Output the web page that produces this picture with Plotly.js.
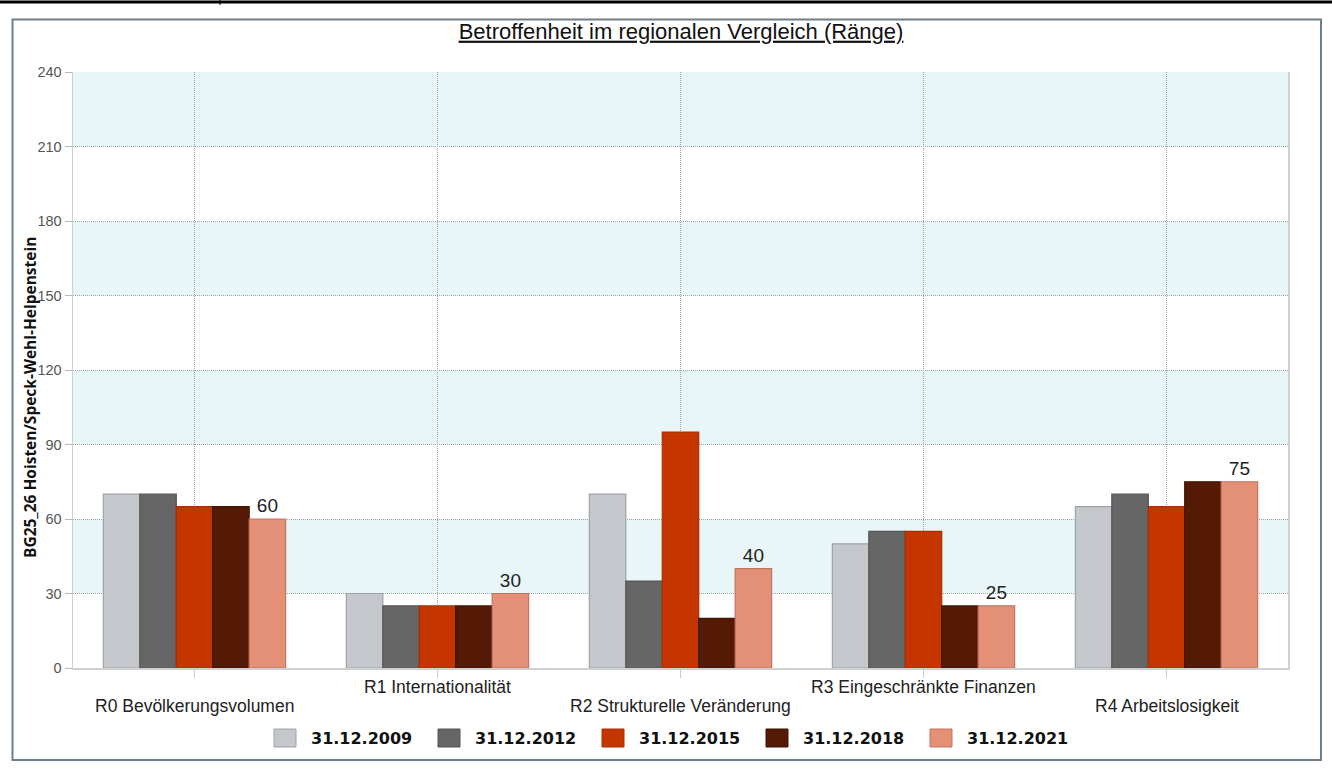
<!DOCTYPE html>
<html>
<head>
<meta charset="utf-8">
<script src="https://cdn.plot.ly/plotly-3.0.1.min.js"></script>
<style>
html,body{margin:0;padding:0;background:#fff;}
#chart{width:1332px;height:771px;}
</style>
</head>
<body>
<div id="chart"></div>
<script>
// ---- data ----
const categories = ["R0 Bevölkerungsvolumen", "R1 Internationalität", "R2 Strukturelle Veränderung", "R3 Eingeschränkte Finanzen", "R4 Arbeitslosigkeit"];
const seriesNames = ["31.12.2009", "31.12.2012", "31.12.2015", "31.12.2018", "31.12.2021"];
const v2009 = [70, 30, 70, 50, 65];
const v2012 = [70, 25, 35, 55, 70];
const v2015 = [65, 25, 95, 55, 65];
const v2018 = [65, 25, 20, 25, 75];
const v2021 = [60, 30, 40, 25, 75];
const yTicks = [0, 30, 60, 90, 120, 150, 180, 210, 240];
const chartTitle = "Betroffenheit im regionalen Vergleich (Ränge)";
const yTitle = "BG25_26 Hoisten/Speck-Wehl-Helpenstein";

// ---- style ----
const fills = ["#c4c8cc", "#666666", "#c43500", "#551a06", "#e39076"];
const borders = ["#9ea3a8", "#555555", "#a83000", "#3e1404", "#c27460"];
const allValues = [v2009, v2012, v2015, v2018, v2021];

const W = 1332, H = 771;
const L = 73, R = 1288, T = 72, B = 668;
const pw = R - L, ph = B - T;
const px = x => (x - L) / pw;
const py = y => (B - y) / ph;
const ARIAL = "Liberation Sans, Arial, sans-serif";

const traces = allValues.map((vals, i) => {
  const isLast = i === allValues.length - 1;
  return {
    type: "bar",
    name: seriesNames[i],
    x: categories,
    y: vals,
    marker: {color: fills[i], line: {color: borders[i], width: 1.2}},
    text: isLast ? vals.map(String) : undefined,
    textposition: isLast ? "outside" : "none",
    textfont: {family: ARIAL, size: 19, color: "#222"},
    cliponaxis: false,
    showlegend: false,
    hoverinfo: "x+y+name"
  };
});

const shapes = [];
// alternating bands derived from ticks
for (let k = 1; k + 1 < yTicks.length; k += 2) {
  shapes.push({type: "rect", xref: "paper", yref: "y", x0: 0, x1: 1, y0: yTicks[k], y1: yTicks[k + 1],
    fillcolor: "#e8f6f8", line: {width: 0}, layer: "below"});
}
// outer frame
shapes.push({type: "rect", xref: "paper", yref: "paper", x0: px(12.5), x1: px(1321), y0: py(760), y1: py(19.5),
  line: {color: "#6f7d88", width: 2}, fillcolor: "rgba(0,0,0,0)"});
// top black rule
shapes.push({type: "line", xref: "paper", yref: "paper", x0: px(0), x1: px(1332), y0: py(2), y1: py(2),
  line: {color: "#000", width: 3}});
shapes.push({type: "line", xref: "paper", yref: "paper", x0: px(220), x1: px(220), y0: py(0), y1: py(5),
  line: {color: "#000", width: 1}});

const annotations = [];
// staggered category labels
categories.forEach((c, i) => {
  annotations.push({xref: "x", yref: "paper", x: c, y: 0, yanchor: "top", xanchor: "center",
    yshift: (i % 2 === 0) ? -26 : -7, text: c, showarrow: false,
    font: {family: ARIAL, size: 17.5, color: "#222"}});
});
// y axis title placed like the reference
annotations.push({xref: "paper", yref: "paper", x: px(30), y: py(398), xanchor: "center", yanchor: "middle",
  textangle: -90, text: yTitle, showarrow: false,
  font: {family: "Open Sans, sans-serif", size: 15.5, color: "#111", weight: "bold"}});
// legend (manual, large swatches)
const legY = 738, legX0 = 274, legStep = 164;
seriesNames.forEach((n, i) => {
  const x = legX0 + i * legStep;
  shapes.push({type: "rect", xref: "paper", yref: "paper", x0: px(x), x1: px(x + 22), y0: py(747), y1: py(729),
    fillcolor: fills[i], line: {color: borders[i], width: 1}});
  annotations.push({xref: "paper", yref: "paper", x: px(x + 35), y: py(legY), xanchor: "left", yanchor: "middle",
    text: "<b>" + n + "</b>", showarrow: false,
    font: {family: "DejaVu Sans, Verdana, sans-serif", size: 16, color: "#111"}});
});

const layout = {
  width: W, height: H,
  margin: {l: L, r: W - R, t: T, b: H - B, pad: 0},
  paper_bgcolor: "#fff", plot_bgcolor: "rgba(0,0,0,0)",
  barmode: "group", bargap: 0.25, bargroupgap: 0,
  showlegend: false,
  title: {text: chartTitle, xref: "container", x: 681 / W, xanchor: "center", yref: "container", y: 1 - 31 / H, yanchor: "middle",
    font: {family: ARIAL, size: 22, color: "#111", lineposition: "under"}},
  xaxis: {
    type: "category", showticklabels: false,
    showgrid: true, gridcolor: "#9ea4aa", griddash: "1px,1px", gridwidth: 1,
    ticks: "outside", ticklen: 8, tickcolor: "#c8c8c8",
    showline: true, linecolor: "#d0d0d0", linewidth: 1.5, zeroline: false
  },
  yaxis: {
    range: [0, 240], tickvals: yTicks, ticktext: yTicks.map(String),
    showgrid: true, gridcolor: "#9ea4aa", griddash: "1px,1px", gridwidth: 1,
    ticks: "outside", ticklen: 7, tickcolor: "#b8b8b8",
    tickfont: {family: ARIAL, size: 14.5, color: "#555"},
    showline: true, mirror: true, linecolor: "#d0d0d0", linewidth: 1.5, zeroline: false
  },
  shapes: shapes,
  annotations: annotations
};

Plotly.newPlot("chart", traces, layout, {displayModeBar: false, staticPlot: true});
</script>
</body>
</html>
